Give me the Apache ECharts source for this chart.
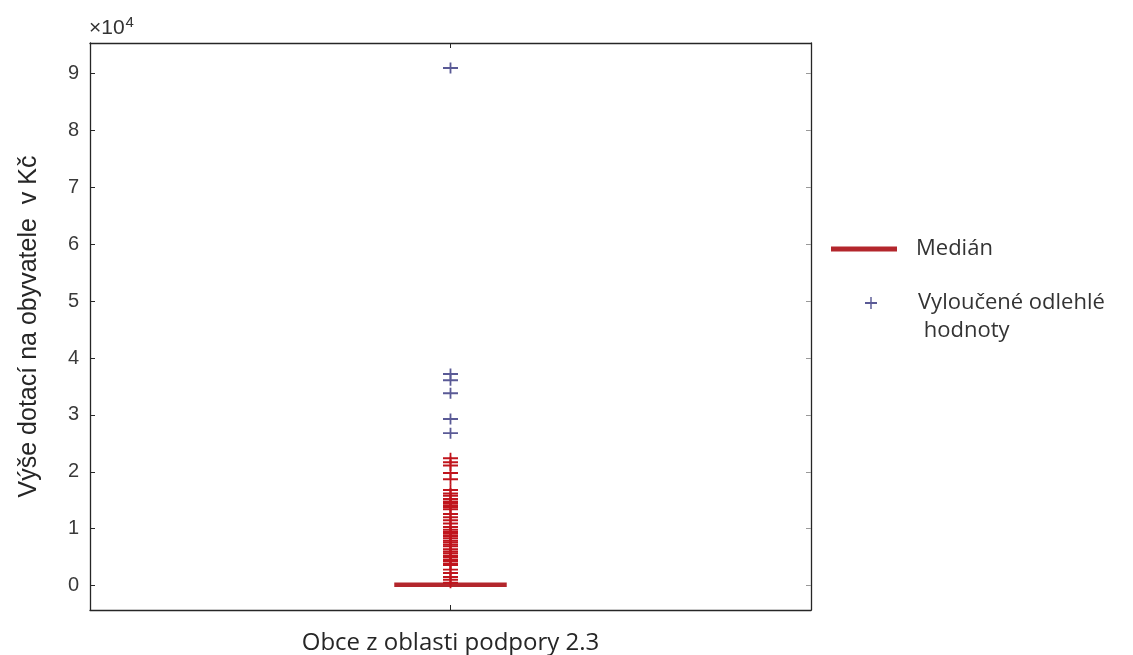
<!DOCTYPE html>
<html>
<head>
<meta charset="utf-8">
<script src="https://cdn.jsdelivr.net/npm/echarts@6/dist/echarts.min.js"></script>
<style>
html,body{margin:0;padding:0;background:#fff;}
#chart{width:1133px;height:655px;}
</style>
</head>
<body>
<div id="chart"></div>
<script>
// ---- data ----
const categories = ['Obce z oblasti podpory 2.3'];
const categoryPosition = [1];
const medianValue = [150];
const redOutliers = [22400, 21700, 21100, 19800, 18700, 16800, 16200, 15800, 15200, 14800,
  14500, 14100, 13800, 13400, 12600, 12000, 11500, 10900, 10300, 9800,
  9400, 9100, 8700, 8300, 7900, 7600, 7200, 6900, 6400, 6000,
  5700, 5300, 5000, 4600, 4300, 3900, 3600, 2800, 2200, 1500, 1000, 500];
const blueOutliers = [91000, 37200, 36100, 33800, 29300, 26800];
const yTicks = [0, 10000, 20000, 30000, 40000, 50000, 60000, 70000, 80000, 90000];
const yTickLabels = ['0', '1', '2', '3', '4', '5', '6', '7', '8', '9'];
const legendNames = ['Medián', 'Vyloučené odlehlé hodnoty'];
const yAxisTitle = 'Výše dotací na obyvatele  v Kč';

// ---- styles ----
const yMin = -4300, yMax = 95400;
const medianHalfWidth = 0.078;
const plusPath = 'path://M0,4.1H10V5.9H0Z M4.4,0H5.6V10H4.4Z';
const red = '#b3262c';
const blue = '#5a5a96';
const axisColor = '#262626';

const chart = echarts.init(document.getElementById('chart'), null, {renderer: 'canvas'});

const x0 = categoryPosition[0];
const medianData = [[x0 - medianHalfWidth, medianValue[0]], [x0 + medianHalfWidth, medianValue[0]]];
const redData = redOutliers.map(v => [x0, v]);
const blueData = blueOutliers.map(v => [x0, v]);

const option = {
  backgroundColor: '#ffffff',
  animation: false,
  grid: {left: 90, right: 322, top: 43, bottom: 43, containLabel: false},
  xAxis: [{
    type: 'value', min: 0.5, max: 1.5, position: 'bottom',
    axisLine: {show: true, onZero: false, lineStyle: {color: axisColor, width: 1.3}},
    axisTick: {show: true, inside: true, length: 5, customValues: categoryPosition, lineStyle: {color: axisColor}},
    axisLabel: {show: true, customValues: categoryPosition, formatter: () => categories[0],
      margin: 21, fontFamily: 'Open Sans', fontSize: 24, color: '#262626'},
    splitLine: {show: false}
  }, {
    type: 'value', min: 0.5, max: 1.5, position: 'top',
    axisLine: {show: true, onZero: false, lineStyle: {color: axisColor, width: 1.3}},
    axisTick: {show: true, inside: true, length: 5, customValues: categoryPosition, lineStyle: {color: axisColor}},
    axisLabel: {show: false},
    splitLine: {show: false}
  }],
  yAxis: [{
    type: 'value', min: yMin, max: yMax, position: 'left',
    name: yAxisTitle, nameLocation: 'middle', nameGap: 48,
    nameTextStyle: {fontFamily: 'Liberation Sans', fontSize: 25, color: '#262626'},
    axisLine: {show: true, onZero: false, lineStyle: {color: axisColor, width: 1.3}},
    axisTick: {show: true, inside: true, length: 5, customValues: yTicks, lineStyle: {color: axisColor}},
    axisLabel: {show: true, customValues: yTicks, margin: 11,
      formatter: v => yTickLabels[yTicks.indexOf(v)] ?? '',
      fontFamily: 'Liberation Sans', fontSize: 20, color: '#3a3a3a'},
    splitLine: {show: false}
  }, {
    type: 'value', min: yMin, max: yMax, position: 'right',
    axisLine: {show: true, onZero: false, lineStyle: {color: axisColor, width: 1.3}},
    axisTick: {show: true, inside: true, length: 5, customValues: yTicks, lineStyle: {color: '#999999'}},
    axisLabel: {show: false},
    splitLine: {show: false}
  }],
  legend: [{
    data: [legendNames[0]],
    orient: 'vertical', left: 826, top: 233,
    icon: 'rect', itemWidth: 66, itemHeight: 5,
    textStyle: {fontFamily: 'Open Sans', fontSize: 22, color: '#333333', padding: [0, 0, 0, 14]}
  }, {
    data: [legendNames[1]],
    orient: 'vertical', left: 860, top: 256,
    icon: plusPath, itemWidth: 14, itemHeight: 12,
    formatter: () => '\nVyloučené odlehlé\n hodnoty',
    textStyle: {fontFamily: 'Open Sans', fontSize: 22, lineHeight: 28, color: '#333333', padding: [0, 0, 0, 35]}
  }],
  graphic: [{
    type: 'text', left: 89, top: 15,
    style: {
      text: '{a|×10}{b|4}',
      rich: {
        a: {fontFamily: 'Liberation Sans', fontSize: 21, fill: '#333333'},
        b: {fontFamily: 'Liberation Sans', fontSize: 15, fill: '#333333', padding: [0, 0, 12, 1]}
      }
    }
  }],
  series: [{
    name: legendNames[0], type: 'line', xAxisIndex: 0, yAxisIndex: 0,
    data: medianData, symbol: 'none', z: 3,
    lineStyle: {color: red, width: 4.5}, itemStyle: {color: red}
  }, {
    name: 'outliers', type: 'scatter', xAxisIndex: 0, yAxisIndex: 0,
    data: redData, symbol: plusPath, symbolSize: [15, 11], symbolKeepAspect: false,
    itemStyle: {color: '#c0141c', opacity: 1}, z: 4
  }, {
    name: legendNames[1], type: 'scatter', xAxisIndex: 0, yAxisIndex: 0,
    data: blueData, symbol: plusPath, symbolSize: [15, 11], symbolKeepAspect: false,
    itemStyle: {color: blue, opacity: 1}, z: 4
  }]
};
chart.setOption(option);
</script>
</body>
</html>
